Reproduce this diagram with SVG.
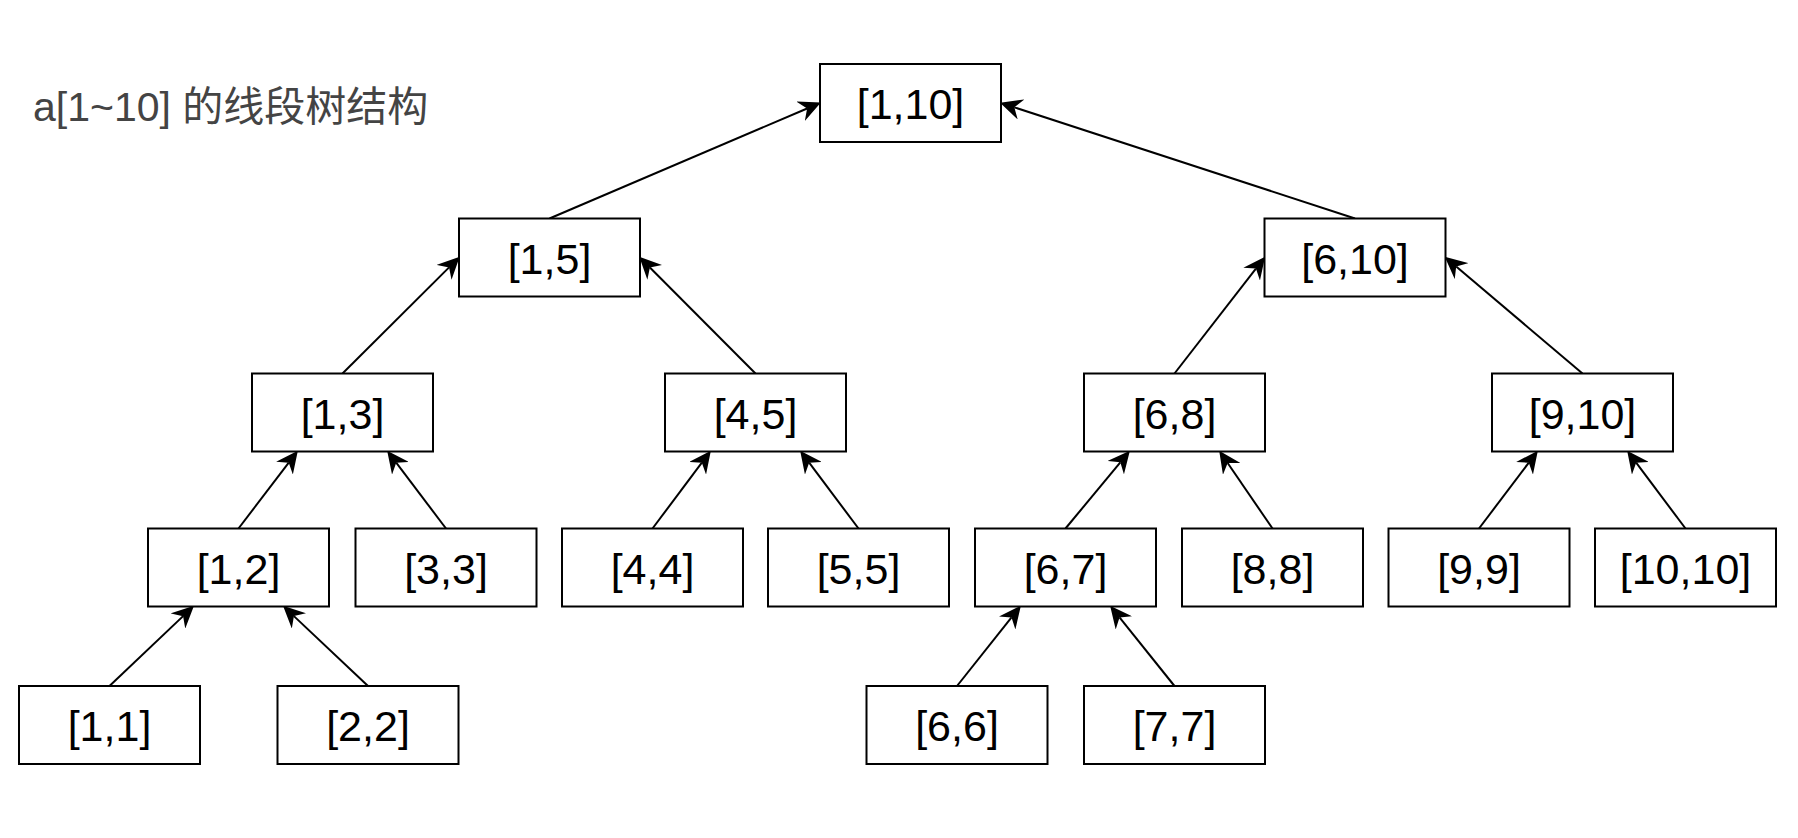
<svg xmlns="http://www.w3.org/2000/svg" width="1798" height="838" viewBox="0 0 1798 838">
<style>
.box rect{fill:#fff;stroke:#000;stroke-width:2}
.box text{font-family:"Liberation Sans",Arial,sans-serif;font-size:43px;fill:#000;text-anchor:middle}
.edges line{stroke:#000;stroke-width:2;fill:none;marker-end:url(#arr)}
.title{font-family:"Liberation Sans","Noto Sans CJK SC",sans-serif;font-size:41px;fill:#444}
</style>
<defs>
<marker id="arr" viewBox="0 0 22 21" refX="7" refY="10.5" markerWidth="22" markerHeight="21" markerUnits="userSpaceOnUse" orient="auto">
<path d="M0,0 L22,10.5 L0,21 L7,10.5 Z" fill="#000"/>
</marker>
</defs>
<rect width="1798" height="838" fill="#fff"/>
<text class="title" x="33" y="121">a[1~10] 的线段树结构</text>
<g class="edges">
<line x1="549.5" y1="218.5" x2="807.12" y2="108.5"/>
<line x1="1355" y1="218.5" x2="1014.31" y2="107.34"/>
<line x1="342.5" y1="373.5" x2="449.08" y2="267.38"/>
<line x1="755.5" y1="373.5" x2="649.88" y2="267.42"/>
<line x1="1174.5" y1="373.5" x2="1255.92" y2="268.56"/>
<line x1="1582.5" y1="373.5" x2="1456.18" y2="266.55"/>
<line x1="238.5" y1="528.5" x2="288.76" y2="462.63"/>
<line x1="446" y1="528.5" x2="396.2" y2="462.67"/>
<line x1="652.5" y1="528.5" x2="701.85" y2="462.7"/>
<line x1="858.5" y1="528.5" x2="809.15" y2="462.7"/>
<line x1="1065.5" y1="528.5" x2="1120.32" y2="462.28"/>
<line x1="1272.5" y1="528.5" x2="1227.66" y2="463.05"/>
<line x1="1479" y1="528.5" x2="1528.8" y2="462.67"/>
<line x1="1685.5" y1="528.5" x2="1636.15" y2="462.7"/>
<line x1="109.5" y1="686" x2="183.1" y2="616.14"/>
<line x1="368" y1="686" x2="293.93" y2="616.11"/>
<line x1="957" y1="686" x2="1011.53" y2="617.46"/>
<line x1="1174.5" y1="686" x2="1119.51" y2="617.42"/>
</g>
<g id="n1_10" class="box"><rect x="820" y="64" width="181" height="78"/><text x="910.5" y="119">[1,10]</text></g>
<g id="n1_5" class="box"><rect x="459" y="218.5" width="181" height="78"/><text x="549.5" y="273.5">[1,5]</text></g>
<g id="n6_10" class="box"><rect x="1264.5" y="218.5" width="181" height="78"/><text x="1355" y="273.5">[6,10]</text></g>
<g id="n1_3" class="box"><rect x="252" y="373.5" width="181" height="78"/><text x="342.5" y="428.5">[1,3]</text></g>
<g id="n4_5" class="box"><rect x="665" y="373.5" width="181" height="78"/><text x="755.5" y="428.5">[4,5]</text></g>
<g id="n6_8" class="box"><rect x="1084" y="373.5" width="181" height="78"/><text x="1174.5" y="428.5">[6,8]</text></g>
<g id="n9_10" class="box"><rect x="1492" y="373.5" width="181" height="78"/><text x="1582.5" y="428.5">[9,10]</text></g>
<g id="n1_2" class="box"><rect x="148" y="528.5" width="181" height="78"/><text x="238.5" y="583.5">[1,2]</text></g>
<g id="n3_3" class="box"><rect x="355.5" y="528.5" width="181" height="78"/><text x="446" y="583.5">[3,3]</text></g>
<g id="n4_4" class="box"><rect x="562" y="528.5" width="181" height="78"/><text x="652.5" y="583.5">[4,4]</text></g>
<g id="n5_5" class="box"><rect x="768" y="528.5" width="181" height="78"/><text x="858.5" y="583.5">[5,5]</text></g>
<g id="n6_7" class="box"><rect x="975" y="528.5" width="181" height="78"/><text x="1065.5" y="583.5">[6,7]</text></g>
<g id="n8_8" class="box"><rect x="1182" y="528.5" width="181" height="78"/><text x="1272.5" y="583.5">[8,8]</text></g>
<g id="n9_9" class="box"><rect x="1388.5" y="528.5" width="181" height="78"/><text x="1479" y="583.5">[9,9]</text></g>
<g id="n10_10" class="box"><rect x="1595" y="528.5" width="181" height="78"/><text x="1685.5" y="583.5">[10,10]</text></g>
<g id="n1_1" class="box"><rect x="19" y="686" width="181" height="78"/><text x="109.5" y="741">[1,1]</text></g>
<g id="n2_2" class="box"><rect x="277.5" y="686" width="181" height="78"/><text x="368" y="741">[2,2]</text></g>
<g id="n6_6" class="box"><rect x="866.5" y="686" width="181" height="78"/><text x="957" y="741">[6,6]</text></g>
<g id="n7_7" class="box"><rect x="1084" y="686" width="181" height="78"/><text x="1174.5" y="741">[7,7]</text></g>
</svg>
